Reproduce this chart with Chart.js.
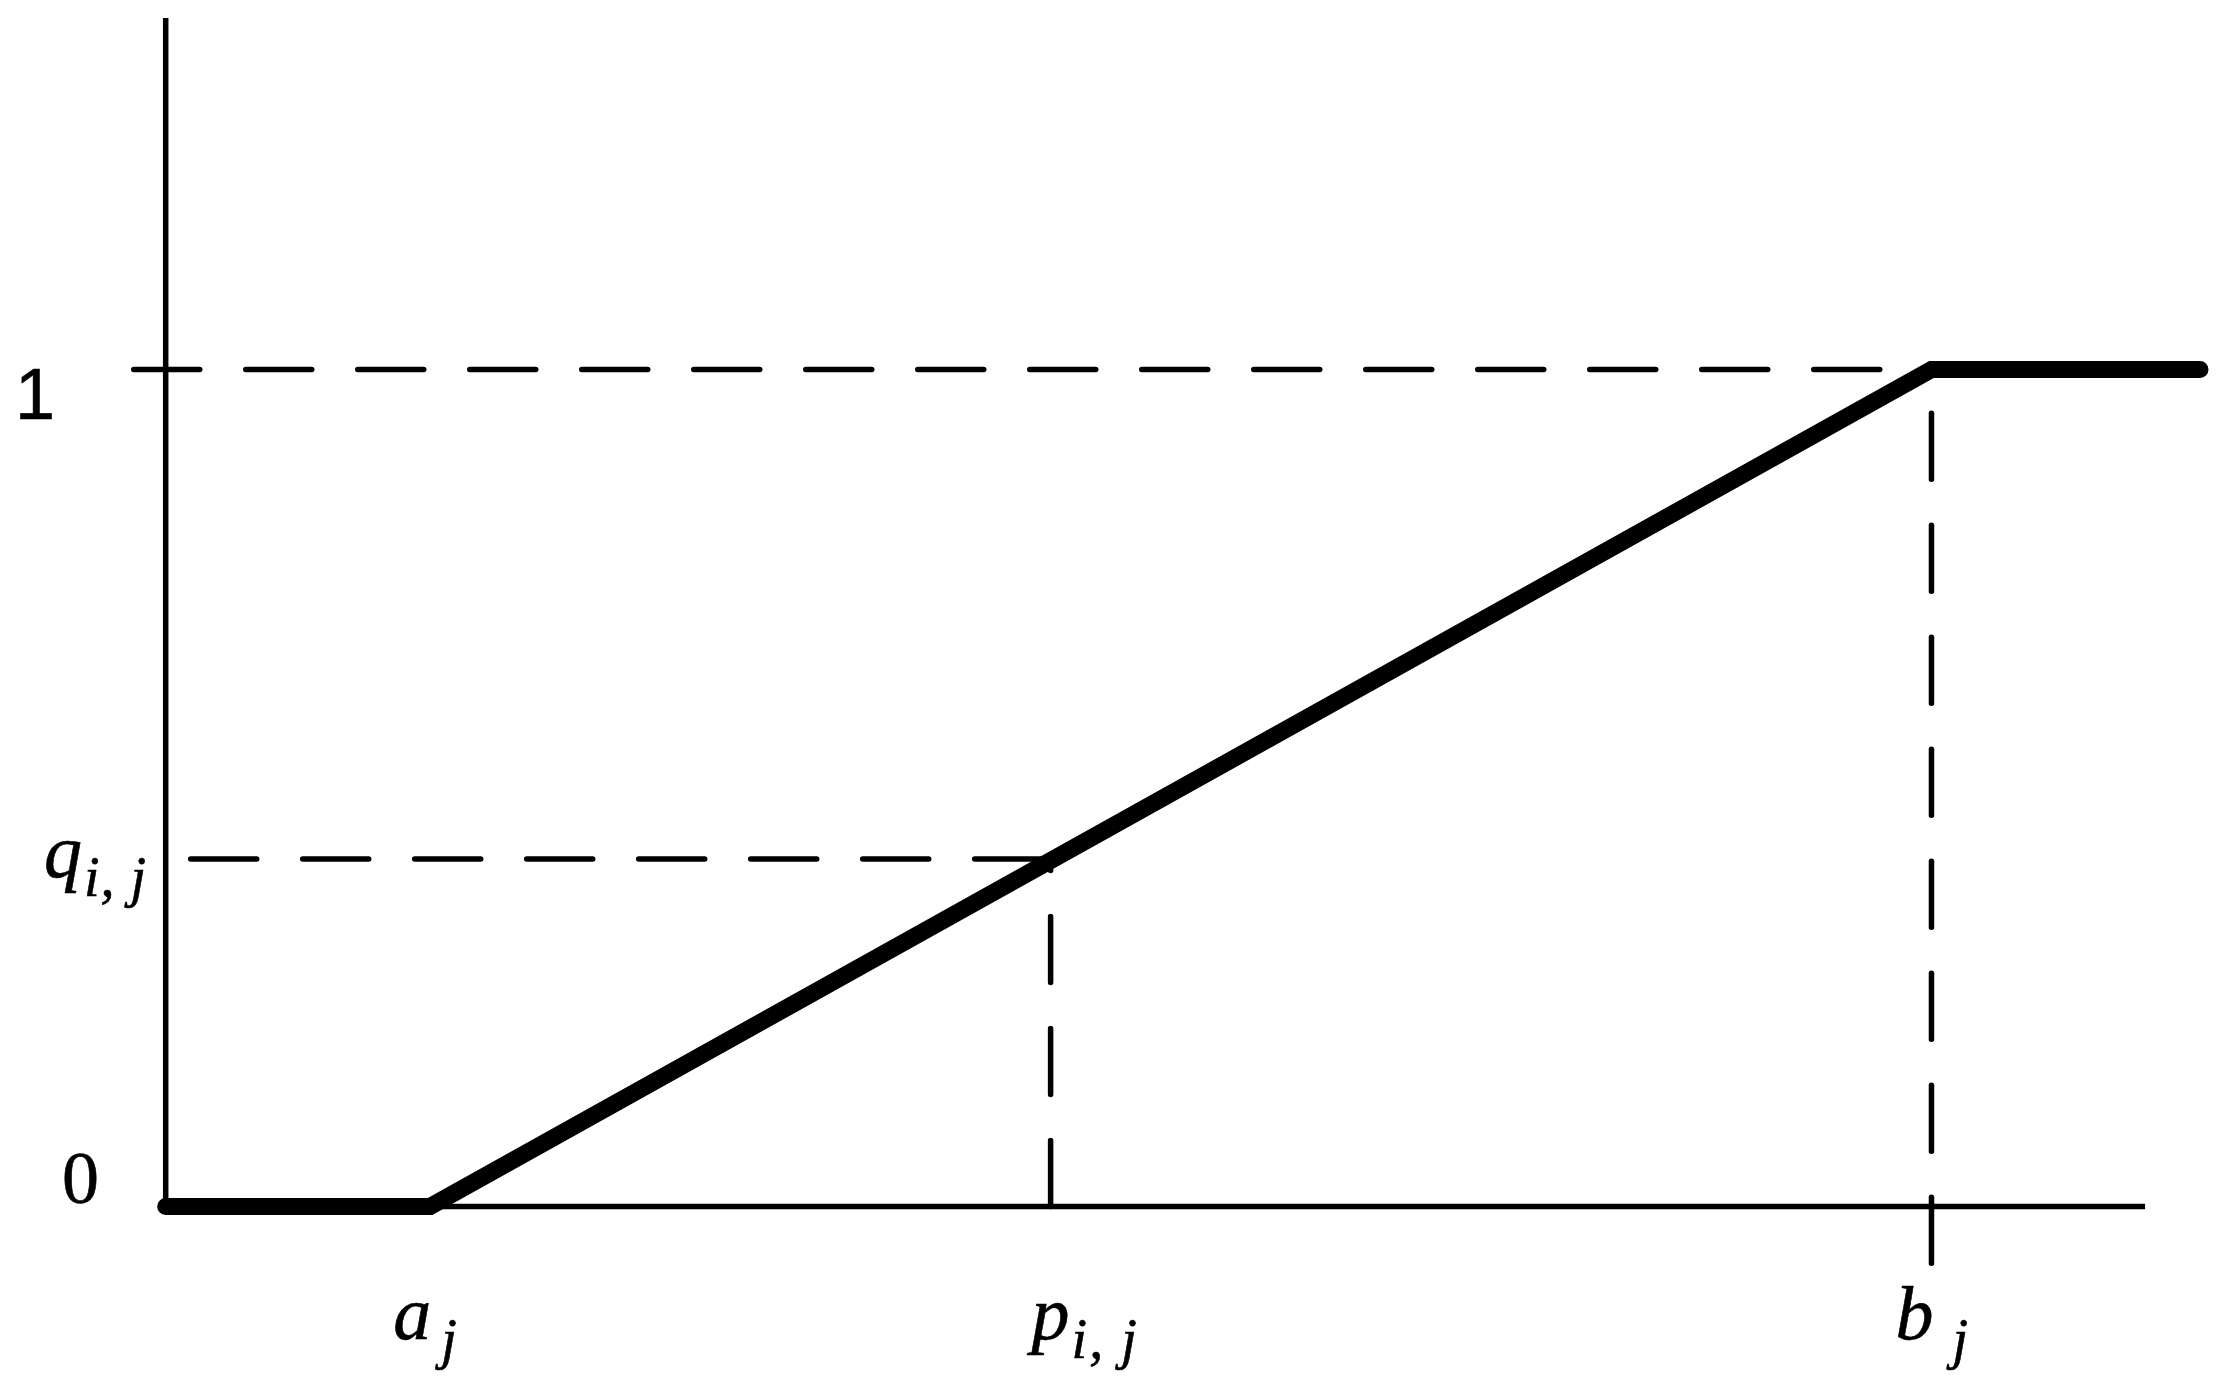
<!DOCTYPE html>
<html lang="en">
<head>
<meta charset="UTF-8">
<title>Piecewise linear membership</title>
<script src="https://cdn.jsdelivr.net/npm/chart.js@4/dist/chart.umd.min.js"></script>
<style>
  html, body { margin: 0; padding: 0; background: #fff; }
  canvas { display: block; }
</style>
</head>
<body>
<canvas id="chart" width="2236" height="1387"></canvas>
<script>
// values (x in arbitrary units, y from 0 to 1)
const fnX = [0, 1.30, 8.68, 10];
const fnY = [0, 0, 1, 1];
const markA = 1.30;
const markP = 4.35;
const markB = 8.68;
const qLevel = 0.415;
const yAxisTop = 1.42;
const xAxisEnd = 9.73;
const oneLineStart = -0.157;
const qLineStart = 0.123;
const bLineBottom = -0.068;

const xLabelMain = ['a', 'p', 'b'];
const xLabelSub = ['j', 'i, j', 'j'];
const xLabelAt = [markA, markP, markB];
const yTickValues = [0, 1];
const yTickLabels = ['0', '1'];

const SERIF = '"Liberation Serif", "Times New Roman", Times, serif';
const SANS = '"Liberation Sans", Arial, Helvetica, sans-serif';

function pts(xs, ys) {
    return xs.map((x, i) => ({ x: x, y: ys[i] }));
}

const thin = { borderColor: '#000', borderWidth: 5.5, pointRadius: 0, fill: false, clip: false, tension: 0 };
const dashed = Object.assign({}, thin, { borderDash: [66, 46], borderCapStyle: 'round' });

const labelPlugin = {
    id: 'labels',
    afterDraw(chart) {
        const ctx = chart.ctx;
        const xs = chart.scales.x;
        const ys = chart.scales.y;
        ctx.save();
        ctx.fillStyle = '#000';
        ctx.strokeStyle = '#000';
        ctx.lineWidth = 0.6;
        ctx.textBaseline = 'alphabetic';

        function txt(s, x, y) {
            ctx.fillText(s, x, y);
            ctx.strokeText(s, x, y);
        }

        function mathText(x, base, main, sub, spacing, gap) {
            ctx.font = 'italic 76px ' + SERIF;
            ctx.letterSpacing = '0px';
            txt(main, x, base);
            const w = ctx.measureText(main).width;
            ctx.font = 'italic 56px ' + SERIF;
            ctx.letterSpacing = spacing + 'px';
            txt(sub, x + w + gap, base + 19);
            ctx.letterSpacing = '0px';
        }

        // y labels
        const y0 = ys.getPixelForValue(yTickValues[0]);
        const y1 = ys.getPixelForValue(yTickValues[1]);
        ctx.font = '74px ' + SERIF;
        txt(yTickLabels[0], 62, y0 - 3);
        ctx.font = '72px ' + SANS;
        txt(yTickLabels[1], 15, y1 + 49);
        mathText(44, ys.getPixelForValue(qLevel) + 18, 'q', 'i, j', 1, 2);

        // x labels
        const offs = [-37, -19, -36];
        const gaps = [10, 2, 19];
        const base = y0 + 133;
        xLabelAt.forEach((v, i) => {
            const px = xs.getPixelForValue(v) + offs[i];
            mathText(px, base, xLabelMain[i], xLabelSub[i], i === 1 ? 2 : 0, gaps[i]);
        });
        ctx.restore();
    }
};

const chart = new Chart(document.getElementById('chart').getContext('2d'), {
    type: 'line',
    data: {
        datasets: [
            Object.assign({}, thin, {
                data: pts(fnX, fnY), borderWidth: 17,
                borderCapStyle: 'round', borderJoinStyle: 'miter'
            }),
            Object.assign({}, thin, { data: pts([0, 0], [0, yAxisTop]) }),
            Object.assign({}, thin, { data: pts([0, xAxisEnd], [0, 0]) }),
            Object.assign({}, dashed, { data: pts([oneLineStart, markB], [1, 1]) }),
            Object.assign({}, dashed, { data: pts([qLineStart, markP], [qLevel, qLevel]) }),
            Object.assign({}, dashed, { data: pts([markP, markP], [0, qLevel]) }),
            Object.assign({}, dashed, { data: pts([markB, markB], [bLineBottom, 1]) })
        ]
    },
    options: {
        responsive: false,
        animation: false,
        layout: { padding: { left: 125, right: 36, top: 18, bottom: 122 } },
        plugins: { legend: { display: false }, tooltip: { enabled: false } },
        scales: {
            x: { type: 'linear', min: -0.2, max: 10, display: false },
            y: { type: 'linear', min: -0.07, max: 1.42, display: false }
        }
    },
    plugins: [labelPlugin]
});

if (document.fonts && document.fonts.ready) {
    document.fonts.ready.then(() => chart.draw());
}
</script>
</body>
</html>
